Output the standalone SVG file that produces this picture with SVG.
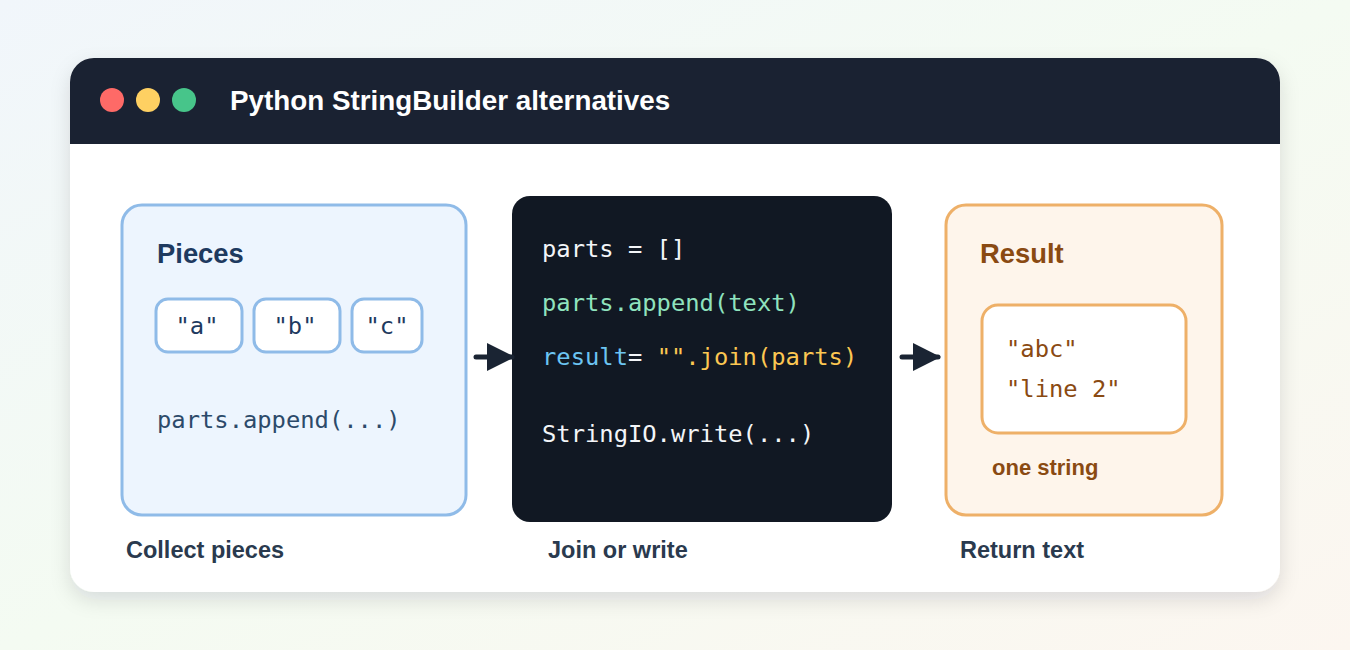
<svg xmlns="http://www.w3.org/2000/svg" width="1350" height="650" viewBox="0 0 1350 650">
<defs>
<linearGradient id="bg" x1="0" y1="0" x2="1" y2="1"><stop offset="0" stop-color="#f1f6fb"/><stop offset="0.5" stop-color="#f4fbf2"/><stop offset="1" stop-color="#fcf6f0"/></linearGradient>
<filter id="sh" x="-10%" y="-10%" width="120%" height="130%"><feDropShadow dx="0" dy="8" stdDeviation="10" flood-color="#1a2433" flood-opacity="0.12"/></filter>
<marker id="ah" viewBox="0 0 10 10" refX="9" refY="5" markerWidth="5.6" markerHeight="7" markerUnits="strokeWidth" orient="auto"><path d="M0,0 L10,5 L0,10 Z" fill="#1a2433"/></marker>
</defs>
<style>
.mono{font-family:"DejaVu Sans Mono",monospace;font-size:23.8px}
.sans{font-family:"Liberation Sans",Arial,sans-serif;font-weight:700}
.lbl{font-size:23.5px;fill:#2a3a4e}
.chip{fill:#fff;stroke:#8fbbe8;stroke-width:3}
</style>
<rect width="1350" height="650" fill="url(#bg)"/>
<g id="window">
<rect x="70" y="58" width="1210" height="534" rx="24" fill="#fff" filter="url(#sh)"/>
<path d="M70,144 V82 a24,24 0 0 1 24,-24 H1256 a24,24 0 0 1 24,24 V144 Z" fill="#1a2232"/>
<circle cx="112" cy="100" r="12" fill="#fe6a67"/>
<circle cx="148" cy="100" r="12" fill="#fed062"/>
<circle cx="184" cy="100" r="12" fill="#47c58a"/>
<text x="230" y="110" class="sans" font-size="27.8" fill="#fff">Python StringBuilder alternatives</text>
</g>
<g id="pieces">
<rect x="122" y="205" width="344" height="310" rx="20" fill="#edf5fe" stroke="#8fbbe8" stroke-width="3"/>
<text x="157" y="263" class="sans" font-size="27.4" fill="#1e3a5f">Pieces</text>
<rect class="chip" x="156" y="299" width="86" height="53" rx="12"/>
<rect class="chip" x="254" y="299" width="86" height="53" rx="12"/>
<rect class="chip" x="352" y="299" width="70" height="53" rx="12"/>
<text class="mono" x="197" y="334" text-anchor="middle" fill="#1e3a5f">"a"</text>
<text class="mono" x="295" y="334" text-anchor="middle" fill="#1e3a5f">"b"</text>
<text class="mono" x="387" y="334" text-anchor="middle" fill="#1e3a5f">"c"</text>
<text class="mono" x="157" y="428" fill="#2c4a6a">parts.append(...)</text>
<text x="126" y="558" class="sans lbl">Collect pieces</text>
</g>
<g id="join">
<rect x="512" y="196" width="380" height="326" rx="18" fill="#111823"/>
<text class="mono" x="542" y="257" fill="#f3f5f8">parts = []</text>
<text class="mono" x="542" y="311" fill="#8fe3be">parts.append(text)</text>
<text class="mono" x="542" y="365"><tspan fill="#6cc4f2">result</tspan><tspan fill="#f3f5f8">= </tspan><tspan fill="#fcc752">"".join(parts)</tspan></text>
<text class="mono" x="542" y="442" fill="#f3f5f8">StringIO.write(...)</text>
<text x="548" y="558" class="sans lbl">Join or write</text>
</g>
<g id="result">
<rect x="946" y="205" width="276" height="310" rx="20" fill="#fef5eb" stroke="#eeb068" stroke-width="3"/>
<text x="980" y="263" class="sans" font-size="27.4" fill="#8a4a12">Result</text>
<rect x="982" y="305" width="204" height="128" rx="16" fill="#fff" stroke="#eeb068" stroke-width="3"/>
<text class="mono" x="1006" y="357" fill="#8a4a12">"abc"</text>
<text class="mono" x="1006" y="397" fill="#8a4a12">"line 2"</text>
<text x="992" y="475" class="sans" font-size="22" fill="#8a4a12">one string</text>
<text x="960" y="558" class="sans lbl">Return text</text>
</g>
<g id="connectors" stroke="#1a2433" stroke-width="5" stroke-linecap="round" fill="none">
<line x1="476" y1="357" x2="512" y2="357" marker-end="url(#ah)"/>
<line x1="902" y1="357" x2="938" y2="357" marker-end="url(#ah)"/>
</g>
</svg>
